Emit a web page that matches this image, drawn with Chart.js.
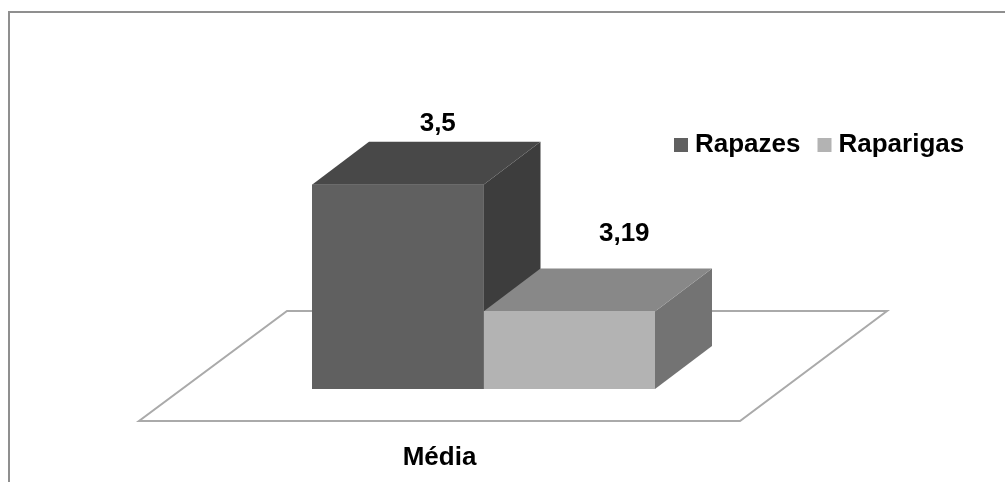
<!DOCTYPE html>
<html>
<head>
<meta charset="utf-8">
<script src="https://cdn.jsdelivr.net/npm/chart.js@4"></script>
<style>
html,body{margin:0;padding:0;background:#fff;overflow:hidden;width:1005px;height:482px;}
#frame{position:absolute;left:8px;top:11px;width:1100px;height:600px;border-left:2px solid #8f8f8f;border-top:2px solid #8f8f8f;}
#wrap{position:absolute;left:0;top:0;width:1005px;height:482px;}
</style>
</head>
<body>
<div id="frame"></div>
<div id="wrap"><canvas id="c" width="1005" height="482"></canvas></div>
<script>
const categories = ['Média'];
const seriesNames = ['Rapazes', 'Raparigas'];
const rapazes = [3.5];
const raparigas = [3.19];
const yMin = 3;
const yMax = 3.6;

const FRONT = ['#606060', '#b3b3b3'];
const TOP = ['#484848', '#888888'];
const SIDE = ['#3d3d3d', '#737373'];
const DX = 57, DY = 43;
const LABEL_DX = [40, 55];
const LABEL_DY = [-61, -78];
const FONT = 'bold 26px "Liberation Sans", Arial, sans-serif';

const fmt = v => String(v).replace('.', ',');

const threeD = {
  id: 'threeD',
  beforeDatasetsDraw(chart) {
    const ctx = chart.ctx;
    const a = chart.chartArea;
    // floor
    ctx.save();
    ctx.beginPath();
    ctx.moveTo(a.left - 173, a.bottom + 32);
    ctx.lineTo(a.right + 85, a.bottom + 32);
    ctx.lineTo(a.right + 232, a.bottom - 78);
    ctx.lineTo(a.left - 25, a.bottom - 78);
    ctx.closePath();
    ctx.fillStyle = '#ffffff';
    ctx.fill();
    ctx.lineWidth = 2;
    ctx.strokeStyle = '#aaaaaa';
    ctx.stroke();
    ctx.restore();
    // top and side faces
    chart.data.datasets.forEach((ds, di) => {
      const meta = chart.getDatasetMeta(di);
      meta.data.forEach(bar => {
        const p = bar.getProps(['x', 'y', 'width'], true);
        const x1 = p.x - p.width / 2, x2 = p.x + p.width / 2;
        const top = p.y, bot = chart.scales.y.getPixelForValue(yMin);
        ctx.save();
        ctx.fillStyle = SIDE[di];
        ctx.beginPath();
        ctx.moveTo(x2, top);
        ctx.lineTo(x2 + DX, top - DY);
        ctx.lineTo(x2 + DX, bot - DY);
        ctx.lineTo(x2, bot);
        ctx.closePath();
        ctx.fill();
        ctx.fillStyle = TOP[di];
        ctx.beginPath();
        ctx.moveTo(x1, top);
        ctx.lineTo(x1 + DX, top - DY);
        ctx.lineTo(x2 + DX, top - DY);
        ctx.lineTo(x2, top);
        ctx.closePath();
        ctx.fill();
        ctx.restore();
      });
    });
  },
  afterDatasetsDraw(chart) {
    const ctx = chart.ctx;
    const a = chart.chartArea;
    ctx.save();
    ctx.font = FONT;
    ctx.fillStyle = '#000';
    ctx.textAlign = 'center';
    ctx.textBaseline = 'middle';
    chart.data.datasets.forEach((ds, di) => {
      const meta = chart.getDatasetMeta(di);
      meta.data.forEach((bar, i) => {
        const p = bar.getProps(['x', 'y'], true);
        ctx.fillText(fmt(ds.data[i]), p.x + LABEL_DX[di], p.y + LABEL_DY[di]);
      });
    });
    // category label
    const fl = a.left - 173, fr = a.right + 85;
    ctx.fillText(chart.data.labels[0], (fl + fr) / 2, 458);
    // legend
    ctx.textAlign = 'left';
    let lx = 674;
    const ly = 145;
    chart.data.datasets.forEach((ds, di) => {
      ctx.fillStyle = ds.backgroundColor;
      ctx.fillRect(lx, ly - 7, 14, 14);
      ctx.fillStyle = '#000';
      ctx.fillText(ds.label, lx + 21, ly);
      lx += 21 + ctx.measureText(ds.label).width + 17;
    });
    ctx.restore();
  }
};

new Chart(document.getElementById('c'), {
  type: 'bar',
  data: {
    labels: categories,
    datasets: [
      { label: seriesNames[0], data: rapazes, backgroundColor: FRONT[0] },
      { label: seriesNames[1], data: raparigas, backgroundColor: FRONT[1] }
    ]
  },
  options: {
    responsive: false,
    animation: false,
    layout: { padding: { left: 312, right: 350, top: 144, bottom: 93 } },
    datasets: { bar: { categoryPercentage: 1, barPercentage: 1, borderWidth: 0 } },
    scales: {
      x: { display: false },
      y: { display: false, min: yMin, max: yMax }
    },
    plugins: { legend: { display: false }, tooltip: { enabled: false } }
  },
  plugins: [threeD]
});
</script>
</body>
</html>
